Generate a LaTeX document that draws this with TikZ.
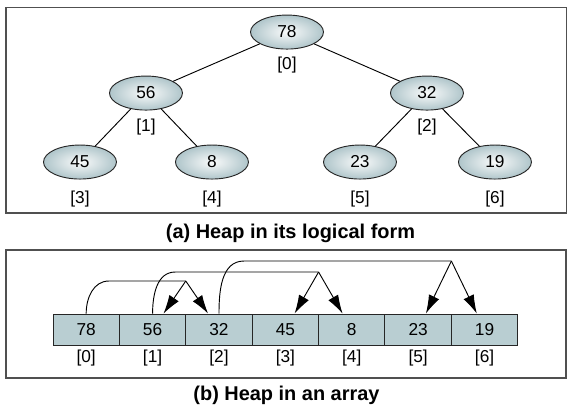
\documentclass[tikz,border=0pt]{standalone}
\usepackage{fontspec}
\setmainfont{Liberation Sans}
\usetikzlibrary{arrows.meta,shapes.geometric,calc}
\definecolor{keyedge}{HTML}{AFC5CA}
\definecolor{keymid}{HTML}{FAFBFB}
\definecolor{cellfill}{HTML}{B9CED2}
\definecolor{framegray}{HTML}{505050}

\begin{document}
\begin{tikzpicture}[auto,
    key/.style={ellipse, draw=black!85, line width=0.7pt, inner color=keymid, outer color=keyedge,
        minimum width=1.93cm, minimum height=0.9cm, inner sep=0pt, font=\fontsize{13}{15}\selectfont},
    cell/.style={rectangle, draw=black!85, line width=0.7pt, fill=cellfill,
        minimum width=1.757cm, minimum height=0.82cm, inner sep=0pt, font=\fontsize{13}{15}\selectfont},
    index/.style={inner sep=0pt, font=\fontsize{13}{15}\selectfont},
    caption/.style={anchor=base, inner sep=0pt, font=\fontsize{15}{18}\selectfont\bfseries},
    link/.style={-{Latex[length=14pt,width=8.5pt]}, line width=0.7pt}]

    \useasboundingbox (0, 0) rectangle (15.16, 10.795);
    \draw [framegray, line width=0.8pt] (0.159, 10.608) rectangle (15.0, 5.159);
    \draw [framegray, line width=0.8pt] (0.159, 4.18) rectangle (14.974, 0.794);

    \node [key] (t0) at (7.593, 9.947) {78};
    \node [key] (t1) at (3.862, 8.333) {56};
    \node [key] (t2) at (11.296, 8.333) {32};
    \node [key] (t3) at (2.116, 6.508) {45};
    \node [key] (t4) at (5.608, 6.508) {8};
    \node [key] (t5) at (9.524, 6.508) {23};
    \node [key] (t6) at (13.095, 6.508) {19};
    \node [index] (ti0) at (7.593, 9.074) {[0]};
    \node [index] (ti1) at (3.862, 7.434) {[1]};
    \node [index] (ti2) at (11.296, 7.434) {[2]};
    \node [index] (ti3) at (2.116, 5.529) {[3]};
    \node [index] (ti4) at (5.608, 5.529) {[4]};
    \node [index] (ti5) at (9.524, 5.529) {[5]};
    \node [index] (ti6) at (13.095, 5.529) {[6]};
    \node [caption] (ca) at (7.685, 4.497) {(a) Heap in its logical form};

    \draw [line width=0.7pt] (t0) -- (t1);
    \draw [line width=0.7pt] (t0) -- (t2);
    \draw [line width=0.7pt] (t1) -- (t3);
    \draw [line width=0.7pt] (t1) -- (t4);
    \draw [line width=0.7pt] (t2) -- (t5);
    \draw [line width=0.7pt] (t2) -- (t6);

    \node [cell] (c0) at (2.28, 2.077) {78};
    \node [cell] (c1) at (4.037, 2.077) {56};
    \node [cell] (c2) at (5.794, 2.077) {32};
    \node [cell] (c3) at (7.55, 2.077) {45};
    \node [cell] (c4) at (9.307, 2.077) {8};
    \node [cell] (c5) at (11.063, 2.077) {23};
    \node [cell] (c6) at (12.82, 2.077) {19};
    \node [index] (ci0) at (2.28, 1.32) {[0]};
    \node [index] (ci1) at (4.037, 1.32) {[1]};
    \node [index] (ci2) at (5.794, 1.32) {[2]};
    \node [index] (ci3) at (7.55, 1.32) {[3]};
    \node [index] (ci4) at (9.307, 1.32) {[4]};
    \node [index] (ci5) at (11.063, 1.32) {[5]};
    \node [index] (ci6) at (12.82, 1.32) {[6]};
    \node [caption] (cb) at (7.579, 0.212) {(b) Heap in an array};

    \coordinate (p0) at (4.915, 3.36);
    \coordinate (p1) at (8.429, 3.598);
    \coordinate (p2) at (11.942, 3.889);

    \draw [line width=0.7pt] (c0.north) to [out=90, in=180] ($(c0.north |- p0) + (0.6, 0)$) -- (p0);
    \draw [link] (p0) -- (c1);
    \draw [link] (p0) -- (c2);
    \draw [line width=0.7pt] (c1.north) to [out=90, in=180] ($(c1.north |- p1) + (0.6, 0)$) -- (p1);
    \draw [link] (p1) -- (c3);
    \draw [link] (p1) -- (c4);
    \draw [line width=0.7pt] (c2.north) to [out=90, in=180] ($(c2.north |- p2) + (0.66, 0)$) -- (p2);
    \draw [link] (p2) -- (c5);
    \draw [link] (p2) -- (c6);

  \end{tikzpicture}
\end{document}
